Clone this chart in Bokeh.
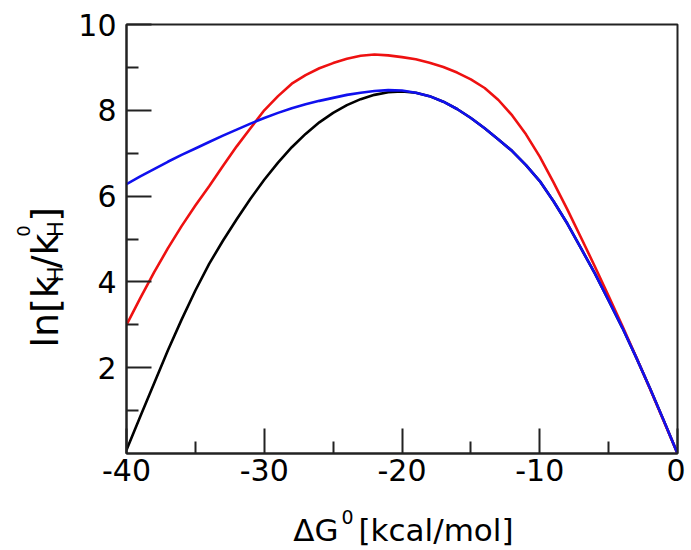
import math
from bokeh.plotting import figure
from bokeh.models import Range1d, FixedTicker, ColumnDataSource
from bokeh.layouts import row, column
from bokeh.core.properties import value
from bokeh.embed import file_html
from bokeh.resources import INLINE

# ---- data ----
dg = [-40, -39, -38, -37, -36, -35, -34, -33, -32, -31, -30,
      -29, -28, -27, -26, -25, -24, -23, -22, -21, -20,
      -19, -18, -17, -16, -15, -14, -13, -12, -11, -10,
      -9, -8, -7, -6, -5, -4, -3, -2, -1, 0]
black_vals = [0.08, 0.86, 1.63, 2.40, 3.12, 3.80, 4.42, 4.96, 5.46, 5.94, 6.38,
              6.78, 7.14, 7.45, 7.72, 7.94, 8.12, 8.26, 8.36, 8.42, 8.44,
              8.41, 8.33, 8.20, 8.03, 7.82, 7.58, 7.32, 7.05, 6.72, 6.35,
              5.88, 5.36, 4.78, 4.20, 3.57, 2.93, 2.24, 1.52, 0.77, 0.00]
red_vals = [3.00, 3.62, 4.22, 4.78, 5.30, 5.78, 6.23, 6.70, 7.16, 7.58, 8.00,
            8.33, 8.62, 8.82, 8.98, 9.10, 9.20, 9.27, 9.30, 9.28, 9.24,
            9.19, 9.11, 9.01, 8.88, 8.72, 8.52, 8.24, 7.88, 7.44, 6.92,
            6.32, 5.69, 5.03, 4.36, 3.67, 2.97, 2.25, 1.51, 0.76, 0.00]
blue_vals = [6.28, 6.46, 6.63, 6.80, 6.96, 7.11, 7.26, 7.41, 7.55, 7.69, 7.82,
             7.94, 8.05, 8.14, 8.22, 8.29, 8.36, 8.41, 8.45, 8.47, 8.46,
             8.41, 8.33, 8.20, 8.03, 7.82, 7.58, 7.32, 7.05, 6.72, 6.35,
             5.88, 5.36, 4.78, 4.20, 3.57, 2.93, 2.24, 1.52, 0.77, 0.00]

x_major = [-40, -30, -20, -10, 0]
x_minor = [-35, -25, -15, -5]
x_tick_labels = ["-40", "-30", "-20", "-10", "0"]
y_major = [2, 4, 6, 8, 10]
y_minor = [1, 3, 5, 7, 9]
y_tick_labels = ["2", "4", "6", "8", "10"]

FONT = "DejaVu Sans"

# ---- layout (page pixels) ----
YW = 70                      # width of the y-label strip
BL, BT, FW, FH, BR, BB = 56, 24, 551, 429, 8, 46
MAIN_H = BT + FH + BB
XH = 50                      # height of the x-label strip

p = figure(width=BL + FW + BR, height=MAIN_H,
           frame_width=FW, frame_height=FH,
           min_border_left=BL, min_border_right=BR,
           min_border_top=BT, min_border_bottom=BB,
           x_range=Range1d(-40, 0), y_range=Range1d(0, 10),
           output_backend="svg", toolbar_location=None)
p.grid.visible = False
p.background_fill_color = "white"
p.border_fill_color = "white"
p.outline_line_color = "#222222"
p.outline_line_width = 2

for ax in (p.xaxis[0], p.yaxis[0]):
    ax.axis_line_color = "#222222"
    ax.axis_line_width = 2
    ax.major_tick_line_color = "#222222"
    ax.minor_tick_line_color = "#222222"
    ax.major_tick_line_width = 2
    ax.minor_tick_line_width = 2
    ax.major_tick_in = 25
    ax.major_tick_out = 0
    ax.minor_tick_in = 12
    ax.minor_tick_out = 0
    ax.major_label_text_font = FONT
    ax.major_label_text_font_size = "30px"
    ax.major_label_text_color = "black"

p.xaxis[0].ticker = FixedTicker(ticks=x_major, minor_ticks=x_minor)
p.xaxis[0].major_label_overrides = {v: s for v, s in zip(x_major, x_tick_labels)}
p.xaxis[0].major_label_standoff = 5
p.yaxis[0].ticker = FixedTicker(ticks=y_major, minor_ticks=y_minor)
p.yaxis[0].major_label_overrides = {v: s for v, s in zip(y_major, y_tick_labels)}
p.yaxis[0].major_label_standoff = 10

src = ColumnDataSource(dict(x=dg, k=black_vals, r=red_vals, b=blue_vals))
p.line("x", "k", source=src, line_color="black", line_width=2.6)
p.line("x", "r", source=src, line_color="#ee1111", line_width=2.6)
p.line("x", "b", source=src, line_color="#1010ee", line_width=2.6)


def strip(w, h):
    f = figure(width=w, height=h, x_range=Range1d(0, w), y_range=Range1d(0, h),
               x_axis_type=None, y_axis_type=None, title=None,
               min_border=0, output_backend="svg", toolbar_location=None)
    f.grid.visible = False
    f.outline_line_color = None
    f.background_fill_color = "white"
    f.border_fill_color = "white"
    return f


def put(f, x, y, text, size, angle=0.0, align="center"):
    f.text(x=[x], y=[y], text=[text], angle=angle,
           text_font=value(FONT), text_font_size=value(f"{size}px"),
           text_color="black", text_align=align, text_baseline="middle")


MID = 0.35   # distance from baseline to the middle of the em box, in em

# ---- y label strip: ln[k_H/k_H^0], rotated; each piece centred ----
yf = strip(YW, MAIN_H)
A = math.pi / 2
MS, SS, PS = 38, 21, 18
base = 58
def py(v):
    return MAIN_H - v
# (text, font size, baseline offset, advance in em, extra gap after)
pieces = [("ln[k", MS, 0, 1.881, 0), ("H", SS, 5, 0.752, 2), ("/k", MS, 0, 0.916, 0),
          ("H", SS, 5, 0.752, 2), ("]", MS, 0, 0.390, 0)]
s = 370.0
for i, (t, size, off, adv, gap) in enumerate(pieces):
    L = adv * size
    put(yf, base + off - MID * size, py(s - L / 2), t, size, A)
    if i == 3:
        put(yf, base - 29 - MID * PS, py(s - 0.318 * PS), "0", PS, A)
    s -= L + gap

# ---- x label strip: ΔG^0 [kcal/mol] ----
xf = strip(YW + BL + FW + BR, XH)
def qy(v):
    return MAIN_H + XH - v
put(xf, 338, qy(540 - MID * 31), "ΔG", 31, align="right")
put(xf, 341, qy(523 - MID * 19), "0", 19, align="left")
put(xf, 513, qy(540 - MID * 31), "[kcal/mol]", 31, align="right")

layout = column(row(yf, p), xf)
open("out.html", "w").write(file_html(layout, INLINE))
